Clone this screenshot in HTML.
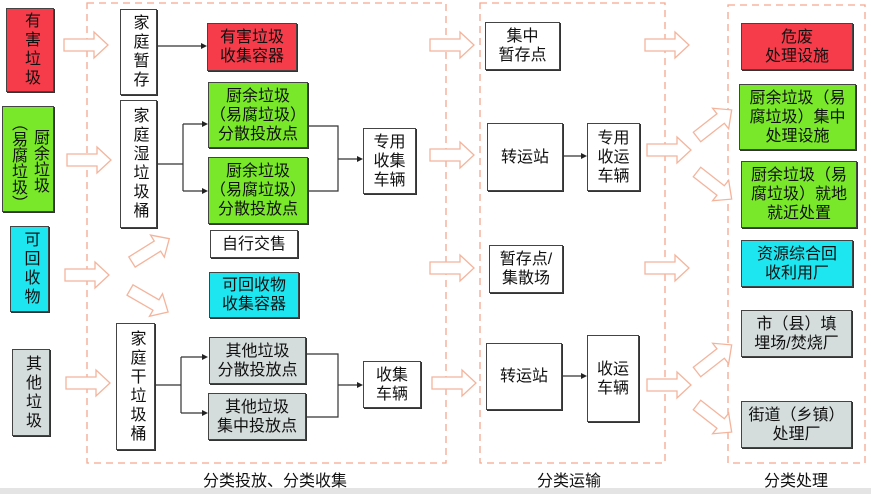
<!DOCTYPE html>
<html><head><meta charset="utf-8"><style>
body{margin:0;width:871px;height:494px;background:#fff;position:relative;overflow:hidden;font-family:"Liberation Sans","Noto Sans CJK SC",sans-serif;color:#111}
.b{position:absolute;box-sizing:border-box;border:1px solid #444;box-shadow:1px 1px 0 #333;display:flex;align-items:center;justify-content:center;text-align:center;font-size:16px;line-height:19px}
.v{writing-mode:vertical-rl;letter-spacing:3px;line-height:20px}
.r{background:#f63b4a}.g{background:#7ae82a}.c{background:#1ee6f0}.y{background:#d5dcdc}.w{background:#fff}
.l{position:absolute;font-size:16px}
svg{position:absolute;left:0;top:0}
</style></head><body>
<svg width="871" height="494">
<g fill="none" stroke="#f5a88e" stroke-width="1.3" stroke-dasharray="7,5">
<rect x="87" y="3" width="359" height="460"/>
<rect x="480" y="3" width="185" height="460"/>
<rect x="728" y="5" width="137" height="458"/>
</g>
<defs><polygon id="ha" points="0,-6 30,-6 30,-13 44,0 30,13 30,6 0,6" fill="#fff" stroke="#f4b49c" stroke-width="1.3"/></defs>
<use href="#ha" x="64" y="45"/><use href="#ha" x="67" y="160"/><use href="#ha" x="65" y="275"/><use href="#ha" x="66" y="383"/>
<use href="#ha" x="430" y="45"/><use href="#ha" x="430" y="155"/><use href="#ha" x="430" y="268"/><use href="#ha" x="432" y="383"/>
<use href="#ha" x="645" y="45"/><use href="#ha" x="647" y="150"/><use href="#ha" x="645" y="268"/><use href="#ha" x="647" y="385"/>
<use href="#ha" transform="translate(132,262) rotate(-32)"/>
<use href="#ha" transform="translate(130,290) rotate(30)"/>
<use href="#ha" transform="translate(697,137) rotate(-38)"/>
<use href="#ha" transform="translate(697,172) rotate(38)"/>
<use href="#ha" transform="translate(697,372) rotate(-38)"/>
<use href="#ha" transform="translate(697,405) rotate(38)"/>
<g stroke="#333" stroke-width="1.2" fill="none">
<path d="M157 46H202"/>
<path d="M157 164H183M183 124V191M183 124H204M183 191H204"/>
<path d="M308 126H338V191H308M338 159H359"/>
<path d="M155 385H181M181 357V413M181 357H204M181 413H204"/>
<path d="M306 354H338V417H306M338 385H359"/>
<path d="M563 156H582"/><path d="M562 376H582"/>
</g>
<g fill="#222">
<path d="M207 46l-6-3v6z"/><path d="M208 124l-6-3v6z"/><path d="M208 191l-6-3v6z"/><path d="M363 159l-6-3v6z"/>
<path d="M208 357l-6-3v6z"/><path d="M208 413l-6-3v6z"/><path d="M363 385l-6-3v6z"/>
<path d="M587 156l-6-3v6z"/><path d="M587 376l-6-3v6z"/>
</g>
</svg>
<div class="b r v" style="left:6px;top:8px;width:48px;height:84px">有害垃圾</div>
<div class="b g" style="left:2px;top:106px;width:52px;height:106px;flex-direction:row-reverse;align-items:flex-start;gap:2px;padding-top:8px">
<div class="v" style="letter-spacing:0;margin-top:14px">厨余垃圾</div><div class="v" style="letter-spacing:0">（易腐垃圾）</div></div>
<div class="b c v" style="left:10px;top:226px;width:39px;height:86px">可回收物</div>
<div class="b y v" style="left:12px;top:349px;width:38px;height:87px">其他垃圾</div>
<div class="b w v" style="left:120px;top:9px;width:37px;height:86px">家庭暂存</div>
<div class="b w v" style="left:120px;top:100px;width:37px;height:128px">家庭湿垃圾桶</div>
<div class="b r" style="left:207px;top:23px;width:90px;height:48px">有害垃圾<br>收集容器</div>
<div class="b g" style="left:208px;top:82px;width:100px;height:66px">厨余垃圾<br>（易腐垃圾）<br>分散投放点</div>
<div class="b g" style="left:208px;top:157px;width:100px;height:67px">厨余垃圾<br>（易腐垃圾）<br>分散投放点</div>
<div class="b w" style="left:363px;top:128px;width:53px;height:66px">专用<br>收集<br>车辆</div>
<div class="b w" style="left:210px;top:230px;width:88px;height:28px">自行交售</div>
<div class="b c" style="left:209px;top:272px;width:90px;height:46px">可回收物<br>收集容器</div>
<div class="b w v" style="left:116px;top:323px;width:39px;height:127px">家庭干垃圾桶</div>
<div class="b y" style="left:209px;top:337px;width:97px;height:47px">其他垃圾<br>分散投放点</div>
<div class="b y" style="left:208px;top:393px;width:98px;height:47px">其他垃圾<br>集中投放点</div>
<div class="b w" style="left:363px;top:361px;width:58px;height:47px">收集<br>车辆</div>
<div class="b w" style="left:485px;top:22px;width:75px;height:48px">集中<br>暂存点</div>
<div class="b w" style="left:487px;top:123px;width:76px;height:68px">转运站</div>
<div class="b w" style="left:587px;top:123px;width:53px;height:68px">专用<br>收运<br>车辆</div>
<div class="b w" style="left:489px;top:245px;width:74px;height:48px">暂存点/<br>集散场</div>
<div class="b w" style="left:486px;top:343px;width:76px;height:67px">转运站</div>
<div class="b w" style="left:587px;top:335px;width:52px;height:87px">收运<br>车辆</div>
<div class="b r" style="left:741px;top:23px;width:112px;height:47px">危废<br>处理设施</div>
<div class="b g" style="left:739px;top:84px;width:117px;height:66px">厨余垃圾（易<br>腐垃圾）集中<br>处理设施</div>
<div class="b g" style="left:741px;top:161px;width:116px;height:67px">厨余垃圾（易<br>腐垃圾）就地<br>就近处置</div>
<div class="b c" style="left:741px;top:240px;width:112px;height:47px">资源综合回<br>收利用厂</div>
<div class="b y" style="left:741px;top:310px;width:111px;height:47px">市（县）填<br>埋场/焚烧厂</div>
<div class="b y" style="left:741px;top:401px;width:111px;height:47px">街道（乡镇）<br>处理厂</div>
<div class="l" style="left:203px;top:467px">分类投放、分类收集</div>
<div class="l" style="left:537px;top:467px">分类运输</div>
<div class="l" style="left:764px;top:467px">分类处理</div>
<div style="position:absolute;left:0;top:488px;width:871px;height:6px;background:#e4e4e4"></div>
</body></html>
